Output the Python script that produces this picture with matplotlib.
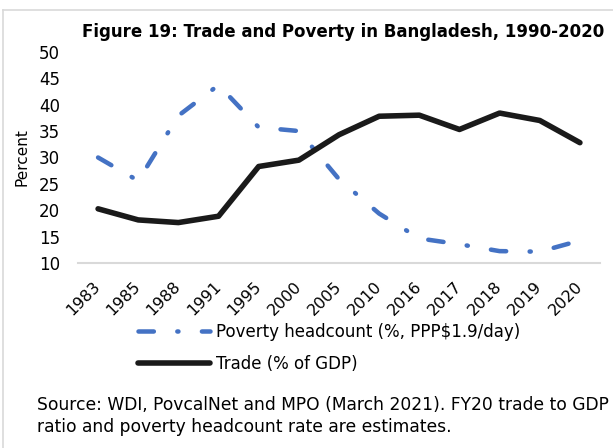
import matplotlib
matplotlib.use("Agg")
import matplotlib.pyplot as plt
from matplotlib.lines import Line2D

years = ["1983", "1985", "1988", "1991", "1995", "2000", "2005",
         "2010", "2016", "2017", "2018", "2019", "2020"]
poverty = [30.0, 25.6, 37.9, 43.7, 35.7, 35.0, 25.9, 19.4, 14.7, 13.6, 12.3, 12.2, 14.3]
trade = [20.3, 18.2, 17.7, 18.9, 28.3, 29.5, 34.3, 37.8, 38.0, 35.3, 38.4, 37.0, 32.8]
yticks = [10, 15, 20, 25, 30, 35, 40, 45, 50]

W, H = 613, 448
plt.rcParams["font.family"] = ["DejaVu Sans"]

fig = plt.figure(figsize=(W / 100, H / 100), dpi=100)
ax = fig.add_axes([78 / W, 1 - 263.3 / H, 522 / W, (263.3 - 51.7) / H])

x = list(range(len(years)))
ax.plot(x, poverty, color="#4472C4", lw=3.25,
        linestyle=(0, (3.4, 5.2, 0.25, 5.2)), dash_capstyle="round",
        solid_capstyle="round", label="Poverty headcount (%, PPP\\$1.9/day)")
ax.plot(x, trade, color="#1a1a1a", lw=4, solid_capstyle="round",
        solid_joinstyle="round", label="Trade (% of GDP)")

ax.set_xlim(-0.5, len(years) - 0.5)
ax.set_ylim(10, 50)
ax.set_yticks(yticks)
ax.set_xticks(x)
ax.set_xticklabels(years, rotation=45, ha="right", va="center",
                   rotation_mode="anchor", fontsize=11.5)
ax.tick_params(axis="x", length=0, pad=15)
ax.tick_params(axis="y", length=0, pad=13, labelsize=12)
for s in ["left", "top", "right"]:
    ax.spines[s].set_visible(False)
ax.spines["bottom"].set_color("#d9d9d9")
ax.spines["bottom"].set_linewidth(1.5)

ax.set_ylabel("Percent", fontsize=11, va="center", ha="center")
ax.yaxis.set_label_coords(-0.108, 0.5)

fig.text(82 / W, 1 - 32.3 / H, "Figure 19: Trade and Poverty in Bangladesh, 1990-2020",
         fontsize=12, fontweight="bold", ha="left", va="center")

fig.legend(loc="center left", bbox_to_anchor=(138 / W, 1 - 348 / H),
           frameon=False, fontsize=12, borderpad=0, borderaxespad=0,
           handlelength=4.3, handletextpad=0.36, labelspacing=0.85)

fig.text(37 / W, 1 - 405 / H,
         "Source: WDI, PovcalNet and MPO (March 2021). FY20 trade to GDP",
         fontsize=12.3, ha="left", va="center")
fig.text(37 / W, 1 - 427 / H,
         "ratio and poverty headcount rate are estimates.",
         fontsize=12.3, ha="left", va="center")

# light frame around the chart (top and left edges visible)
fig.add_artist(Line2D([2.5 / W, 1], [1 - 10 / H, 1 - 10 / H],
                      transform=fig.transFigure, color="#d9d9d9", lw=1.2))
fig.add_artist(Line2D([2.5 / W, 2.5 / W], [0, 1 - 10 / H],
                      transform=fig.transFigure, color="#d9d9d9", lw=1.2))

fig.savefig("out.png", dpi=100)
